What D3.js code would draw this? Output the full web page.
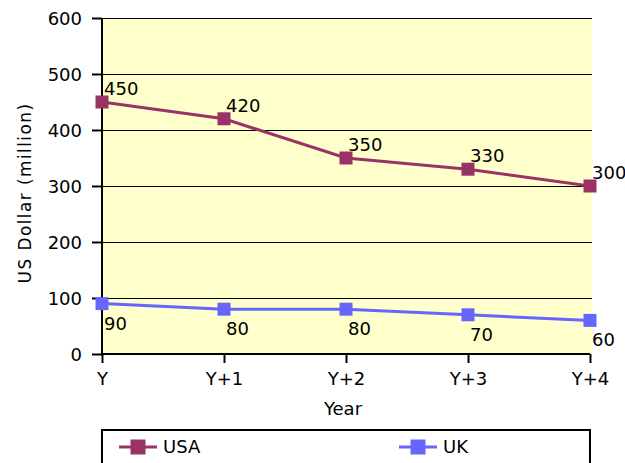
<!DOCTYPE html>
<html><head><meta charset="utf-8">
<script src="https://cdn.jsdelivr.net/npm/d3@7"></script>
<style>body{margin:0;background:#fff}svg{display:block}text{font-family:"DejaVu Sans",Verdana,sans-serif;}</style>
</head><body>
<script>
const categories = ["Y","Y+1","Y+2","Y+3","Y+4"];
const usaValues = [450,420,350,330,300];
const ukValues = [90,80,80,70,60];
const yTicks = [0,100,200,300,400,500,600];
const seriesNames = ["USA","UK"];

(function(){
const W=625,H=463;
const svg=d3.select("body").append("svg").attr("width",W).attr("height",H);
const pL=102,pR=590,pT=18,pB=354;
const x=d3.scalePoint().domain(categories).range([pL,pR]);
const y=d3.scaleLinear().domain([0,600]).range([pB,pT]);
const fs=18;

svg.append("rect").attr("x",pL).attr("y",pT).attr("width",pR+2-pL).attr("height",pB-pT).attr("fill","#ffffcc");
svg.append("g").selectAll("line").data(yTicks.filter(d=>d>0)).join("line")
  .attr("x1",pL).attr("x2",pR+2).attr("y1",d=>y(d)).attr("y2",d=>y(d))
  .attr("stroke","#000").attr("stroke-width",1).attr("shape-rendering","crispEdges");

const yAxis=svg.append("g").attr("transform",`translate(${pL},0)`)
  .call(d3.axisLeft(y).tickValues(yTicks).tickSize(10).tickPadding(10));
const xAxis=svg.append("g").attr("transform",`translate(0,${pB})`)
  .call(d3.axisBottom(x).tickSize(9).tickPadding(10));
[yAxis,xAxis].forEach(a=>{a.select(".domain").attr("stroke","#000").attr("stroke-width",2);
  a.selectAll(".tick line").attr("stroke","#000").attr("stroke-width",2);
  a.selectAll("text").attr("font-size",fs).attr("fill","#000").attr("font-family","DejaVu Sans");});
yAxis.selectAll(".tick text").attr("dy","0.36em");
xAxis.selectAll(".tick text").attr("y",31).attr("dy",null);
yAxis.select(".domain").attr("d",`M0,${pT}V${pB}`);
xAxis.select(".domain").attr("d",`M${pL},0H${pR}`);

svg.append("text").attr("transform",`translate(31,193) rotate(-90)`)
  .attr("text-anchor","middle").attr("font-size",17).attr("letter-spacing",1.4).text("US Dollar (million)");
svg.append("text").attr("x",343).attr("y",415).attr("text-anchor","middle").attr("font-size",fs).text("Year");

const series=[{name:"USA",values:usaValues,color:"#993366",above:true},{name:"UK",values:ukValues,color:"#6666ff",above:false}];
const line=d3.line().x(d=>x(d.c)).y(d=>y(d.v));
const ms=13;
series.forEach(s=>{
  const pts=categories.map((c,i)=>({c,v:s.values[i]}));
  svg.append("path").datum(pts).attr("d",line).attr("fill","none").attr("stroke",s.color).attr("stroke-width",3);
  svg.append("g").selectAll("rect").data(pts).join("rect")
    .attr("x",d=>x(d.c)-ms/2).attr("y",d=>y(d.v)-ms/2).attr("width",ms).attr("height",ms).attr("fill",s.color);
  svg.append("g").selectAll("text").data(pts).join("text")
    .attr("x",d=>x(d.c)+2).attr("y",d=>s.above?y(d.v)-7:y(d.v)+26)
    .attr("font-size",fs).text(d=>d.v);
});

const lg=svg.append("g");
lg.append("rect").attr("x",102).attr("y",430).attr("width",488).attr("height",50).attr("fill","#fff").attr("stroke","#000").attr("stroke-width",2);
const lx=[119,399];
const lms=15;
series.forEach((s,i)=>{
  lg.append("line").attr("x1",lx[i]).attr("x2",lx[i]+38).attr("y1",447).attr("y2",447).attr("stroke",s.color).attr("stroke-width",3);
  lg.append("rect").attr("x",lx[i]+19-lms/2).attr("y",447-lms/2).attr("width",lms).attr("height",lms).attr("fill",s.color);
  lg.append("text").attr("x",lx[i]+44).attr("y",453).attr("font-size",fs).text(seriesNames[i]);
});
})();
</script>
</body></html>
